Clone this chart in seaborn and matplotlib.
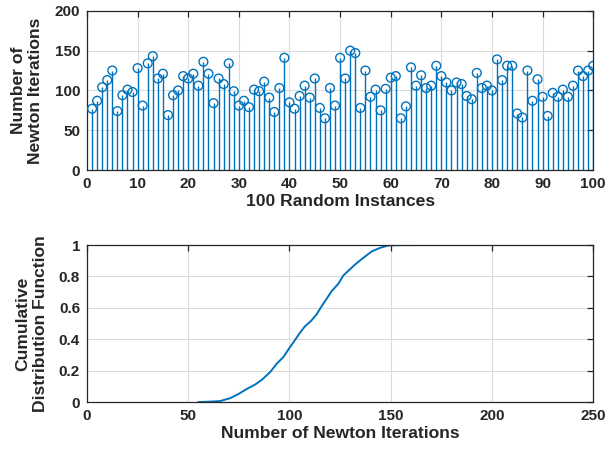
import numpy as np
import pandas as pd
import matplotlib
matplotlib.use('Agg')
import matplotlib.pyplot as plt
import seaborn as sns

# ── data ──────────────────────────────────────────────────────────
instances = list(range(1, 101))
iterations = [
    77, 87, 104, 113, 125, 74, 94, 101, 98, 128,
    81, 134, 143, 115, 121, 69, 94, 100, 118, 115,
    121, 106, 136, 121, 84, 115, 108, 134, 99, 81,
    87, 79, 101, 99, 111, 91, 73, 103, 141, 85,
    77, 93, 106, 91, 115, 78, 65, 103, 81, 141,
    115, 150, 147, 78, 125, 92, 101, 75, 102, 116,
    118, 65, 80, 129, 106, 119, 103, 106, 131, 118,
    110, 100, 110, 108, 93, 89, 122, 103, 106, 100,
    139, 113, 131, 131, 71, 66, 125, 87, 114, 92,
    68, 97, 92, 101, 92, 106, 125, 118, 125, 131,
]

cdf_x = [55, 60, 65.7, 70.6, 74.8, 78.9, 83, 86.3, 90.4, 93.7, 97, 100,
         102.5, 105, 107.5, 110.8, 113.3, 115.8, 118.3, 120.8, 124.1,
         126.6, 129.2, 133.2, 136.5, 140.7, 144.9, 149, 155, 162.3]
cdf_y = [0.0, 0.002, 0.006, 0.024, 0.051, 0.083, 0.111, 0.141, 0.19, 0.244,
         0.287, 0.345, 0.391, 0.438, 0.48, 0.519, 0.557, 0.609, 0.657,
         0.706, 0.753, 0.806, 0.838, 0.885, 0.919, 0.96, 0.983, 0.998,
         1.0, 1.0]

stem_df = pd.DataFrame({'instance': instances, 'iters': iterations})
cdf_df = pd.DataFrame({'iters': cdf_x, 'cdf': cdf_y})

# ── style ─────────────────────────────────────────────────────────
sns.set_style('white')
plt.rcParams['font.family'] = ['Liberation Sans', 'DejaVu Sans']
plt.rcParams['font.weight'] = 'bold'
plt.rcParams['axes.labelweight'] = 'bold'

blue = '#0072BD'
grid_col = '#dcdcdc'

fig = plt.figure(figsize=(6.07, 4.51), dpi=100)
ax1 = fig.add_axes([0.1433, 0.623, 0.834, 0.353])
ax2 = fig.add_axes([0.1433, 0.1086, 0.834, 0.348])


def matlab_axes(ax):
    ax.grid(True, color=grid_col, lw=0.8)
    ax.set_axisbelow(True)
    for sp in ax.spines.values():
        sp.set_color('#262626')
        sp.set_linewidth(0.9)
        sp.set_visible(True)
    ax.tick_params(direction='in', top=True, right=True, length=4,
                   width=0.9, labelsize=11, colors='#262626', pad=5)


# ── top: stem plot ────────────────────────────────────────────────
ax1.vlines(stem_df['instance'], 0, stem_df['iters'], color=blue, lw=1.0)
sns.scatterplot(data=stem_df, x='instance', y='iters', ax=ax1, marker='o',
                s=40, facecolor='none', edgecolor=blue, linewidth=1.0,
                zorder=3)
ax1.set_xlim(0, 100)
ax1.set_ylim(0, 200)
ax1.set_xticks(range(0, 101, 10))
ax1.set_yticks(range(0, 201, 50))
ax1.set_xlabel('100 Random Instances', fontsize=12.6, labelpad=2)
ax1.set_ylabel('Number of\nNewton Iterations', fontsize=12.6, labelpad=8)
matlab_axes(ax1)

# ── bottom: CDF ───────────────────────────────────────────────────
sns.lineplot(data=cdf_df, x='iters', y='cdf', ax=ax2, color=blue, lw=1.4)
ax2.set_xlim(0, 250)
ax2.set_ylim(0, 1)
ax2.set_xticks(range(0, 251, 50))
ax2.set_yticks([0, 0.2, 0.4, 0.6, 0.8, 1])
ax2.set_yticklabels(['0', '0.2', '0.4', '0.6', '0.8', '1'])
ax2.set_xlabel('Number of Newton Iterations', fontsize=12.6, labelpad=2)
ax2.set_ylabel('Cumulative\nDistribution Function', fontsize=12.6, labelpad=8)
matlab_axes(ax2)

fig.savefig('out.png', dpi=100)
